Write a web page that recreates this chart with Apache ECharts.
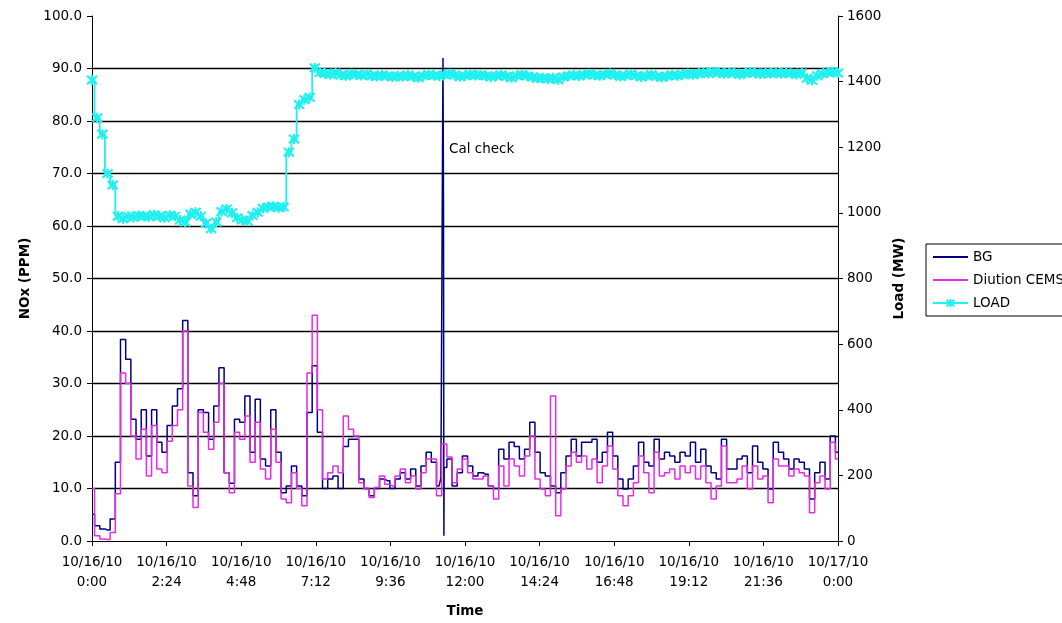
<!DOCTYPE html>
<html>
<head>
<meta charset="utf-8">
<title>NOx vs Load</title>
<script src="https://cdn.jsdelivr.net/npm/echarts@6/dist/echarts.min.js"></script>
<style>
  html, body { margin: 0; padding: 0; background: #fff; }
  #main { width: 1062px; height: 623px; }
</style>
</head>
<body>
<div id="main"></div>
<script>
// samples every 10 minutes, 10/16/10 0:00 -> 10/17/10 0:00
var sampleStep = 10;

// BG analyzer NOx (PPM)
var bgValues = [
  5.1, 2.9, 2.3, 2.1, 4.2, 15, 38.4, 34.6, 23.2, 19.4, 25, 16.2,
  25, 18.8, 16.9, 22, 25.7, 29, 42, 13, 8.6, 25, 24.5, 19.4,
  25.7, 33, 13, 11, 23.2, 22.6, 27.6, 16.9, 27, 15.6, 14.3, 25,
  16.9, 9.2, 10.5, 14.3, 10.5, 8.6, 24.5, 33.4, 20.7, 10, 11.8, 12.4,
  10, 18, 19.4, 19.4, 11.8, 10, 8.6, 10, 11.8, 11.5, 10, 11.8,
  13, 11.8, 13.7, 10.5, 14.3, 16.9, 15, 10.5, 14, 15.6, 10.5, 13,
  16.2, 14.3, 12.4, 13, 12.7, 10.5, 10, 17.5, 15.6, 18.8, 18, 15.6,
  17.5, 22.6, 16.9, 13, 12.4, 10.5, 9.2, 13, 16.2, 19.4, 16.2, 18.8,
  18.8, 19.4, 15, 16.9, 20.7, 16.2, 11.8, 9.9, 11.8, 14.3, 18.8, 15,
  14.3, 19.4, 15.6, 16.9, 16.2, 15, 16.9, 16.2, 18.8, 15, 17.5, 14.3,
  13, 11.8, 19.4, 13.7, 13.7, 15.6, 16.2, 13, 18.1, 15, 13.7, 9.9,
  18.8, 16.9, 15.6, 13.7, 15.6, 15, 13.7, 8, 13, 15, 11.8, 20,
  16.9
];

// cal check spike on the BG trace
var calTimes = [677, 678, 679, 679.5];
var calValues = [12, 92, 64, 1];

// dilution CEMS NOx (PPM)
var dilValues = [
  10, 1, 0.4, 0.3, 1.6, 9, 32, 30, 20, 15.6, 21.3, 12.4,
  22, 13.7, 13, 19, 22, 25, 40, 10.5, 6.4, 24.5, 20.7, 17.5,
  22.6, 30, 13, 9.2, 20.7, 19.4, 23.8, 15, 22.6, 13.7, 11.8, 21.3,
  15, 8, 7.3, 13, 10, 6.7, 32, 43, 25, 11.8, 13, 14.3,
  13, 23.8, 21.3, 20, 11.1, 9.9, 8.3, 10.2, 12.4, 10.8, 10.5, 12.4,
  13.7, 11.1, 12.4, 9.9, 13, 15.6, 15.6, 8.6, 18.5, 16, 11.1, 13.7,
  15.6, 13, 11.8, 11.8, 12.4, 10.5, 8, 14.3, 10.5, 15.6, 14.3, 12.4,
  16.2, 20, 11.8, 9.9, 8.6, 27.6, 4.8, 9.9, 14.3, 16.9, 15, 16.2,
  13.7, 15.6, 11.1, 14.3, 18.1, 13.7, 8.6, 6.7, 8.6, 11.1, 16.2, 13,
  9.2, 16.9, 12.4, 13, 13.7, 11.8, 14.3, 13, 14.3, 11.8, 14.3, 11.1,
  8, 10.5, 18.1, 11.1, 11.1, 11.8, 14.3, 9.9, 14.3, 11.8, 12.4, 7.3,
  15.6, 14.3, 14.3, 12.4, 13.7, 13, 12.4, 5.4, 11.1, 12.4, 9.9, 18.8,
  15.6
];

// unit load (MW)
var loadValues = [
  1405, 1290, 1240, 1120, 1085, 990, 982, 990, 986, 992, 990, 988,
  994, 990, 985, 993, 990, 978, 972, 996, 1002, 990, 968, 952,
  972, 1004, 1012, 1000, 985, 978, 975, 992, 1002, 1014, 1018, 1020,
  1016, 1018, 1185, 1225, 1330, 1345, 1352, 1442, 1428, 1425, 1422, 1426,
  1420, 1418, 1424, 1421, 1419, 1423, 1418, 1416, 1420, 1417, 1414, 1418,
  1415, 1420, 1416, 1412, 1418, 1422, 1419, 1417, 1421, 1424, 1420, 1415,
  1418, 1422, 1419, 1421, 1417, 1414, 1418, 1420, 1416, 1412, 1418, 1421,
  1417, 1414, 1410, 1412, 1408, 1412, 1406, 1414, 1418, 1420, 1417, 1421,
  1424, 1420, 1418, 1422, 1425, 1420, 1416, 1419, 1423, 1418, 1414, 1418,
  1421, 1416, 1413, 1417, 1420, 1418, 1422, 1425, 1421, 1424, 1428, 1425,
  1430, 1427, 1424, 1428, 1426, 1422, 1425, 1429, 1426, 1423, 1427, 1425,
  1428, 1424, 1427, 1425, 1422, 1426, 1410, 1404, 1418, 1424, 1428, 1430,
  1426
];

function toPairs(values) {
  var out = [];
  for (var i = 0; i < values.length; i++) {
    out.push([i * sampleStep, values[i]]);
  }
  return out;
}

var bgData = toPairs(bgValues);
for (var k = 0; k < calTimes.length; k++) {
  bgData.push([calTimes[k], calValues[k]]);
}
bgData.sort(function (a, b) { return a[0] - b[0]; });

function timeLabel(v) {
  var day = v >= 1440 ? '10/17/10' : '10/16/10';
  var m = v % 1440;
  var h = Math.floor(m / 60);
  var mm = m % 60;
  return day + '\n' + h + ':' + (mm < 10 ? '0' : '') + mm;
}

var font = 'DejaVu Sans, Verdana, sans-serif';
var fs = 13.5;
var starMarker = 'path://M0,0L10,10M10,0L0,10M5,-1L5,11';
var cyan = '#1ff0f0';

var myChart = echarts.init(document.getElementById('main'));

var option = {
  animation: false,
  backgroundColor: '#fff',
  textStyle: { fontFamily: font },
  grid: { left: 92, right: 224, top: 16, bottom: 80 },
  legend: {
    orient: 'vertical',
    left: 926,
    top: 244,
    itemWidth: 35,
    itemHeight: 10,
    itemGap: 9,
    padding: [6, 40, 6, 6],
    borderColor: '#000',
    borderWidth: 1,
    textStyle: { color: '#000', fontSize: fs, fontFamily: font },
    data: [
      { name: 'BG', itemStyle: { opacity: 0 } },
      { name: 'Diution CEMS', itemStyle: { opacity: 0 } },
      { name: 'LOAD' }
    ]
  },
  graphic: [{
    type: 'text',
    left: 449,
    top: 142,
    style: { text: 'Cal check', fill: '#000', font: fs + 'px ' + font }
  }],
  xAxis: {
    type: 'value',
    min: 0,
    max: 1440,
    interval: 144,
    name: 'Time',
    nameLocation: 'middle',
    nameGap: 63,
    nameTextStyle: { color: '#000', fontSize: fs, fontWeight: 'bold' },
    axisLine: { lineStyle: { color: '#000', width: 1 } },
    axisTick: { inside: false, length: 5, lineStyle: { color: '#000' } },
    axisLabel: { color: '#000', fontSize: fs, lineHeight: 20, margin: 11, formatter: timeLabel },
    splitLine: { show: false }
  },
  yAxis: [{
    type: 'value',
    min: 0,
    max: 100,
    interval: 10,
    name: 'NOx (PPM)',
    nameLocation: 'middle',
    nameRotate: 90,
    nameGap: 51,
    nameTextStyle: { color: '#000', fontSize: fs, fontWeight: 'bold' },
    axisLine: { show: true, lineStyle: { color: '#000', width: 1 } },
    axisTick: { show: true, length: 5, lineStyle: { color: '#000' } },
    axisLabel: { color: '#000', fontSize: fs, margin: 10, formatter: function (v) { return v.toFixed(1); } },
    splitLine: { show: true, showMinLine: false, showMaxLine: false, lineStyle: { color: '#000', width: 1.3 } }
  }, {
    type: 'value',
    position: 'right',
    min: 0,
    max: 1600,
    interval: 200,
    name: 'Load (MW)',
    nameLocation: 'middle',
    nameRotate: 90,
    nameGap: 54,
    nameTextStyle: { color: '#000', fontSize: fs, fontWeight: 'bold' },
    axisLine: { show: true, lineStyle: { color: '#000', width: 1 } },
    axisTick: { show: true, length: 5, lineStyle: { color: '#000' } },
    axisLabel: { color: '#000', fontSize: fs, margin: 9, formatter: function (v) { return String(v); } },
    splitLine: { show: false }
  }],
  series: [{
    name: 'BG',
    type: 'line',
    yAxisIndex: 0,
    step: 'middle',
    symbol: 'none',
    lineStyle: { color: '#000080', width: 1.5 },
    itemStyle: { color: '#000080' },
    data: bgData
  }, {
    name: 'Diution CEMS',
    type: 'line',
    yAxisIndex: 0,
    step: 'middle',
    symbol: 'none',
    lineStyle: { color: '#e82ae8', width: 1.5 },
    itemStyle: { color: '#e82ae8' },
    data: toPairs(dilValues)
  }, {
    name: 'LOAD',
    type: 'line',
    yAxisIndex: 1,
    step: 'middle',
    symbol: starMarker,
    symbolSize: 10,
    showAllSymbol: true,
    lineStyle: { color: cyan, width: 1.8 },
    itemStyle: { color: cyan, borderColor: cyan, borderWidth: 2.2 },
    data: toPairs(loadValues)
  }]
};

myChart.setOption(option);
</script>
</body>
</html>
